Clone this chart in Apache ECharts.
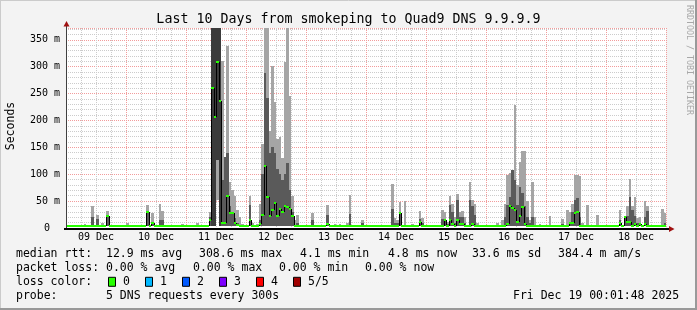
<!DOCTYPE html>
<html>
<head>
<meta charset="utf-8">
<script src="https://cdn.jsdelivr.net/npm/echarts@6.0.0/dist/echarts.min.js"></script>
<style>
html,body{margin:0;padding:0;background:#f3f3f3;overflow:hidden}
#chart{width:697px;height:310px}
</style>
</head>
<body>
<div id="chart"></div>
<script>
// ---------------- data ----------------
const dayLabels = ['09 Dec','10 Dec','11 Dec','12 Dec','13 Dec','14 Dec','15 Dec','16 Dec','17 Dec','18 Dec'];
const yTickLabels = {0:'0', 50:'50 m', 100:'100 m', 150:'150 m', 200:'200 m', 250:'250 m', 300:'300 m', 350:'350 m'};

// median rtt (ms), one value per hour since 09 Dec 00:00
const medianMs = [
  4.6,4.6,4.6,4.6,4.6,4.6,4.6,4.6,4.6,4.6,4.6,4.6,4.6,4.6,4.6,4.6,21.6,4.6,4.6,4.6,4.6,4.6,4.6,4.6,
  4.6,4.6,4.6,4.6,4.6,4.6,4.6,4.6,29.7,4.6,9,4.6,4.6,4.6,4.6,4.6,4.6,4.6,4.6,4.6,4.6,4.6,4.6,4.6,
  4.6,4.6,4.6,4.6,4.6,4.6,4.6,4.6,4.6,14,260,206,309,236,9,9,60,28,27,9,6,4.6,4.6,4.6,
  4.6,15,4.6,4.6,4.6,8,25,116,58,23,33,47,23,36,30,40,39,35,23,4.6,4.6,4.6,4.6,4.6,
  4.6,4.6,4.6,4.6,4.6,4.6,4.6,4.6,7,4.6,4.6,4.6,4.6,4.6,4.6,4.6,4.6,4.6,4.6,4.6,4.6,4.6,4.6,4.6,
  4.6,4.6,4.6,4.6,4.6,4.6,4.6,4.6,4.6,4.6,4.6,4.6,4.6,27,4.6,4.6,4.6,4.6,4.6,4.6,4.6,11,4.6,4.6,
  4.6,4.6,4.6,4.6,4.6,4.6,4.6,14,4.6,14,8,4.6,15,7,7,4.6,4.6,4.6,8,4.6,4.6,4.6,4.6,4.6,
  4.6,4.6,4.6,4.6,4.6,4.6,4.6,4.6,8,40,38,33,12,23,39,8,4.6,4.6,4.6,4.6,4.6,4.6,4.6,4.6,
  4.6,4.6,4.6,4.6,4.6,4.6,4.6,4.6,4.6,9,9,27,29,4.6,4.6,4.6,4.6,4.6,4.6,4.6,4.6,4.6,4.6,4.6,
  4.6,4.6,4.6,4.6,4.6,10,4.6,20,12,12,4.6,8,4.6,7,4.6,7,4.6,4.6,4.6,4.6,4.6,4.6,4.6,4.6
];

// smoke (sorted pings) for hours that show spread: p1 bottom, p2, p4, p5 top (ms)
const smokeHour = [
  7,10,12,14,16,
  24,32,34,37,38,46,
  52,57,58,59,60,61,62,63,64,65,66,67,68,69,70,
  73,74,76,77,78,79,80,81,82,83,84,85,86,87,88,89,90,91,92,
  98,104,107,109,112,113,118,
  130,131,132,133,135,138,141,142,
  150,151,152,153,154,155,156,157,158,159,161,162,163,164,
  172,174,175,176,177,178,179,180,181,182,183,184,185,186,187,189,
  193,198,200,201,202,203,204,205,206,208,212,
  221,223,224,225,226,227,228,229,231,232,238,239
];
const smokeP1 = [
  4,4,4,4,4,
  4,4,4,4,4,4,
  4,4,4,4,52,4,4,4,4,4,4,4,4,4,4,
  4,4,4,4,4,4,4,4,4,4,4,4,4,4,4,4,4,4,4,
  4,4,4,4,4,4,4,
  4,4,4,4,4,4,4,4,
  4,4,4,4,4,4,4,4,4,4,4,4,4,4,
  4,4,4,4,4,4,4,4,4,4,4,4,4,4,4,4,
  4,4,4,4,4,4,4,4,4,4,4,
  4,4,4,4,4,4,4,4,4,4,4,4
];
const smokeP2 = [
  4,4,4,4,4,
  4,4,4,4,4,4,
  4,4,4,4,126,4,4,4,4,4,4,4,4,4,4,
  4,4,4,4,4,4,4,4,4,4,4,4,4,4,4,4,4,4,4,
  4,4,4,4,4,4,4,
  4,4,4,4,4,4,4,4,
  4,4,4,4,4,4,4,4,4,4,4,4,4,4,
  4,4,4,4,4,4,4,4,4,4,4,4,4,4,4,4,
  4,4,4,4,4,4,4,4,4,4,4,
  4,4,4,4,4,4,4,4,4,4,4,4
];
const smokeP4 = [
  4,21,16,4,21,
  4,28,11,14,14,4,
  4,20,372,372,372,372,90,132,140,40,30,18,10,4,4,
  42,4,4,15,100,289,242,140,150,140,110,100,90,100,120,70,30,4,10,
  15,25,4,4,4,26,10,
  36,10,10,27,4,4,17,10,
  17,17,8,43,30,10,53,20,20,10,53,40,25,4,
  4,4,20,43,58,108,90,43,77,65,40,20,10,20,4,4,
  4,8,4,10,29,53,56,20,4,4,4,
  15,20,23,58,34,22,10,8,20,31,4,10
];
const smokeP5 = [
  8,40,24,10,32,
  10,43,27,45,31,8,
  10,30,372,372,372,372,310,132,339,85,70,60,33,20,8,
  59,10,8,45,157,372,372,180,301,235,165,170,130,308,372,245,60,15,25,
  27,42,7,7,9,62,14,
  82,19,15,48,51,8,32,18,
  34,30,12,59,45,20,64,30,31,20,85,53,45,10,
  10,15,45,99,102,108,229,80,122,144,143,50,15,85,20,8,
  22,17,34,29,45,99,99,96,10,43,25,
  34,22,40,91,40,58,19,20,51,40,36,27
];
// hours whose inner smoke band is rendered in the darkest shade
const deepHours = [58,59,60,61];

// ---------------- drawing ----------------
const LIGHT = '#a5a5a5', DARK = '#5a5a5a', DEEP = '#3b3b3b', GREEN = '#26ff00';
const MONO = '"DejaVu Sans Mono", "Liberation Mono", monospace';
const G = {left: 66, top: 28, width: 600, height: 200};

const smokeData = smokeHour.map((h, k) => [h, smokeP1[k], smokeP2[k], smokeP4[k], smokeP5[k], deepHours.indexOf(h) >= 0 ? 1 : 0]);
const medData = medianMs.map((m, i) => [i, m, i > 0 ? medianMs[i - 1] : m]);

function px(api, h) { return Math.round(api.coord([h, 0])[0]); }
function py(api, v) { return api.coord([0, v])[1]; }

const chart = echarts.init(document.getElementById('chart'), null, {renderer: 'canvas', width: 697, height: 310});

const legendRows = [254.0, 267.9, 281.8, 295.7];
function txt(x, y, s, extra) {
  return Object.assign({type: 'text', x: x, y: y, silent: true,
    style: {text: s, font: '11.5px ' + MONO, fill: '#000', align: 'left', verticalAlign: 'middle'}}, extra || {});
}
const lossColors = ['#26ff00', '#00b8ff', '#0059ff', '#7e00ff', '#ff0000', '#a10000'];
const lossNames = ['0', '1', '2', '3', '4', '5/5'];
const lossBoxX = [108.5, 145.5, 182.5, 219.5, 256.5, 293.5];

const graphics = [
  {type: 'rect', shape: {x: 0, y: 0, width: 697, height: 310}, style: {fill: '#f3f3f3'}, z: -10, silent: true},
  {type: 'line', shape: {x1: 0, y1: 0.5, x2: 697, y2: 0.5}, style: {stroke: '#cbcbcb', lineWidth: 1}, silent: true},
  {type: 'line', shape: {x1: 0.5, y1: 0, x2: 0.5, y2: 310}, style: {stroke: '#cbcbcb', lineWidth: 1}, silent: true},
  {type: 'rect', shape: {x: 695, y: 0, width: 2, height: 310}, style: {fill: '#999999'}, silent: true},
  {type: 'rect', shape: {x: 0, y: 308, width: 697, height: 2}, style: {fill: '#999999'}, silent: true},
  {type: 'text', x: 348.5, y: 19.5, silent: true,
   style: {text: 'Last 10 Days from smokeping to Quad9 DNS 9.9.9.9', font: '13.3px ' + MONO, fill: '#000', align: 'center', verticalAlign: 'middle'}},
  {type: 'text', x: 11.5, y: 126, rotation: Math.PI / 2, silent: true,
   style: {text: 'Seconds', font: '11.5px ' + MONO, fill: '#000', align: 'center', verticalAlign: 'middle'}},
  {type: 'text', x: 689.5, y: 60, rotation: -Math.PI / 2, silent: true,
   style: {text: 'RRDTOOL / TOBI OETIKER', font: '8.3px ' + MONO, fill: '#a8a8a8', align: 'center', verticalAlign: 'middle'}},
  {type: 'line', shape: {x1: 66.5, y1: 228, x2: 66.5, y2: 24}, style: {stroke: '#404040', lineWidth: 1}, z: 50, silent: true},
  {type: 'line', shape: {x1: 64, y1: 229, x2: 670, y2: 229}, style: {stroke: '#000', lineWidth: 2}, z: 50, silent: true},
  {type: 'polygon', shape: {points: [[66.5, 21], [63.5, 26.5], [69.5, 26.5]]}, style: {fill: '#a01010'}, z: 51, silent: true},
  {type: 'polygon', shape: {points: [[674.5, 229], [669, 226], [669, 232]]}, style: {fill: '#a01010'}, z: 51, silent: true},
  txt(16, legendRows[0], 'median rtt:'),
  txt(106, legendRows[0], '12.9 ms avg'),
  txt(199, legendRows[0], '308.6 ms max'),
  txt(300, legendRows[0], '4.1 ms min'),
  txt(388, legendRows[0], '4.8 ms now'),
  txt(472, legendRows[0], '33.6 ms sd'),
  txt(558, legendRows[0], '384.4 m am/s'),
  txt(16, legendRows[1], 'packet loss:'),
  txt(106, legendRows[1], '0.00 % avg'),
  txt(193, legendRows[1], '0.00 % max'),
  txt(279, legendRows[1], '0.00 % min'),
  txt(365, legendRows[1], '0.00 % now'),
  txt(16, legendRows[2], 'loss color:'),
  txt(16, legendRows[3], 'probe:'),
  txt(106, legendRows[3], '5 DNS requests every 300s'),
  txt(513, legendRows[3], 'Fri Dec 19 00:01:48 2025')
];
lossColors.forEach((c, k) => {
  graphics.push({type: 'rect', shape: {x: lossBoxX[k], y: legendRows[2] - 4.5, width: 7, height: 9},
    style: {fill: c, stroke: '#000', lineWidth: 1}, silent: true});
  graphics.push(txt(lossBoxX[k] + 14.5, legendRows[2], lossNames[k]));
});

const minorLine = {show: true, lineStyle: {color: '#cccccc', width: 1, type: [1, 1]}};
const majorLine = {show: true, lineStyle: {color: '#f29c9c', width: 1, type: [1, 1]}};
const hidden = {show: false};

chart.setOption({
  animation: false,
  backgroundColor: '#f3f3f3',
  grid: {left: G.left, top: G.top, width: G.width, height: G.height, show: true, backgroundColor: '#ffffff', borderWidth: 0},
  xAxis: [
    {type: 'value', position: 'bottom', min: 0, max: 240, interval: 6, axisLine: hidden, axisTick: hidden, axisLabel: hidden, splitLine: minorLine},
    {type: 'value', position: 'bottom', min: 0, max: 240, interval: 24, axisLine: hidden, axisTick: hidden, axisLabel: hidden, splitLine: majorLine},
    {type: 'value', position: 'bottom', min: 0, max: 240, interval: 12, axisLine: hidden, axisTick: hidden, splitLine: hidden,
     axisLabel: {show: true, margin: 4, fontFamily: MONO, fontSize: 10, color: '#000', showMinLabel: true, showMaxLabel: false,
       formatter: v => (v % 24 === 12 ? dayLabels[(v - 12) / 24] : '')}}
  ],
  yAxis: [
    {type: 'value', position: 'left', min: 0, max: 372, interval: 10, axisLine: hidden, axisTick: hidden, axisLabel: hidden, splitLine: minorLine},
    {type: 'value', position: 'left', min: 0, max: 372, interval: 50, axisLine: hidden, axisTick: hidden, splitLine: majorLine,
     axisLabel: {show: true, margin: 6, fontFamily: MONO, fontSize: 10, color: '#000', showMaxLabel: false,
       formatter: v => (v === 0 ? '{z|0}' : (yTickLabels[v] || '')),
       rich: {z: {fontFamily: MONO, fontSize: 10, color: '#000', padding: [0, 10, 0, 0]}}}}
  ],
  series: [
    {type: 'custom', xAxisIndex: 0, yAxisIndex: 0, data: smokeData, clip: true, z: 5,
     renderItem: function (params, api) {
       const h = api.value(0);
       const x0 = px(api, h), x1 = px(api, h + 1);
       const y1 = Math.round(py(api, api.value(1))), y2 = Math.round(py(api, api.value(2)));
       const y4 = Math.round(py(api, api.value(3))), y5 = Math.round(py(api, api.value(4)));
       const kids = [];
       function band(ya, yb, color) { if (ya - yb > 0) kids.push({type: 'rect', shape: {x: x0, y: yb, width: x1 - x0, height: ya - yb}, style: {fill: color}}); }
       band(y1, y2, LIGHT);
       band(y2, y4, api.value(5) ? DEEP : DARK);
       band(y4, y5, LIGHT);
       return {type: 'group', children: kids};
     }},
    {type: 'custom', xAxisIndex: 0, yAxisIndex: 0, data: medData, clip: true, z: 6,
     renderItem: function (params, api) {
       const i = api.value(0);
       const x0 = px(api, i), x1 = px(api, i + 1);
       const y = Math.round(py(api, api.value(1))), yp = Math.round(py(api, api.value(2)));
       const kids = [];
       if (Math.abs(y - yp) > 1) kids.push({type: 'line', shape: {x1: x0 + 0.5, y1: yp, x2: x0 + 0.5, y2: y}, style: {stroke: '#000', lineWidth: 1}});
       kids.push({type: 'rect', shape: {x: x0, y: y - 1, width: x1 - x0, height: 2}, style: {fill: GREEN}});
       return {type: 'group', children: kids};
     }}
  ],
  graphic: graphics
});
</script>
</body>
</html>
